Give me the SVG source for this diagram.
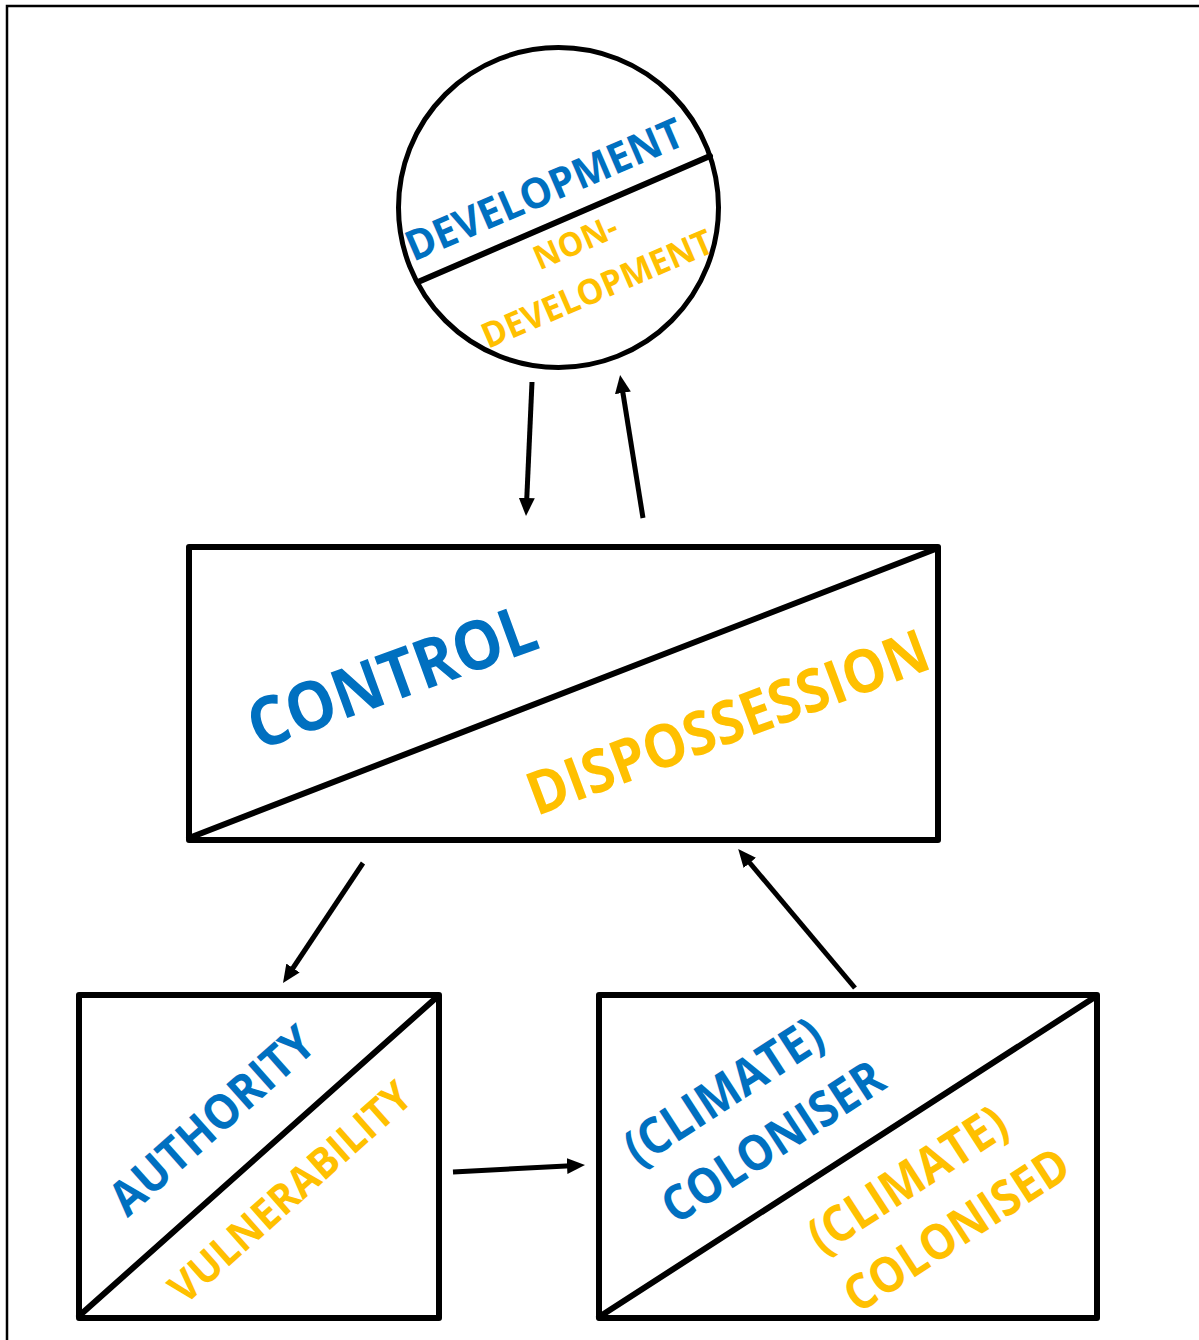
<svg xmlns="http://www.w3.org/2000/svg" width="1199" height="1340" viewBox="0 0 1199 1340">
<style>
.shape{fill:none;stroke:#000;stroke-width:6;stroke-linejoin:round;stroke-linecap:round}
.conn{fill:none;stroke:#000;stroke-width:5}
.t{font-family:"Open Sans","Noto Sans",sans-serif;font-weight:bold;text-anchor:middle}
.blue{fill:#0070C0}
.orange{fill:#FFC000}
</style>
<defs>
<marker id="arr" markerUnits="userSpaceOnUse" markerWidth="18" markerHeight="16" refX="9" refY="8" orient="auto">
<path d="M0,0 L18,8 L0,16 z" fill="#000"/>
</marker>
</defs>
<rect width="1199" height="1340" fill="#fff"/>
<rect x="7" y="6" width="1300" height="1400" fill="none" stroke="#000" stroke-width="2.5"/>

<g id="node-development">
<circle cx="558.5" cy="207.5" r="160" fill="none" stroke="#000" stroke-width="5"/>
<line x1="418" y1="282" x2="710" y2="156" class="shape" stroke-width="5"/>
<text class="t blue" font-size="42" textLength="298" lengthAdjust="spacingAndGlyphs" transform="translate(550,203) rotate(-23.3)">DEVELOPMENT</text>
<text class="t orange" font-size="33" textLength="88" lengthAdjust="spacingAndGlyphs" transform="translate(580,253) rotate(-23.3)">NON-</text>
<text class="t orange" font-size="35" textLength="248" lengthAdjust="spacingAndGlyphs" transform="translate(602,300) rotate(-23.3)">DEVELOPMENT</text>
</g>

<g id="node-control">
<rect x="189" y="547" width="749" height="293" class="shape"/>
<line x1="189" y1="838" x2="938" y2="548" class="shape"/>
<text class="t blue" font-size="68" textLength="302" lengthAdjust="spacingAndGlyphs" transform="translate(400,699) rotate(-20)">CONTROL</text>
<text class="t orange" font-size="60" textLength="424" lengthAdjust="spacingAndGlyphs" transform="translate(735,742) rotate(-20.5)">DISPOSSESSION</text>
</g>

<g id="node-authority">
<rect x="79" y="995" width="360" height="323" class="shape"/>
<line x1="79" y1="1316" x2="437" y2="997" class="shape"/>
<text class="t blue" font-size="48" textLength="256" lengthAdjust="spacingAndGlyphs" transform="translate(223,1133) rotate(-41.7)">AUTHORITY</text>
<text class="t orange" font-size="42" textLength="308" lengthAdjust="spacingAndGlyphs" transform="translate(300,1203) rotate(-41.7)">VULNERABILITY</text>
</g>

<g id="node-coloniser">
<rect x="599" y="995" width="498" height="323" class="shape"/>
<line x1="599" y1="1317" x2="1095" y2="997" class="shape"/>
<text class="t blue" font-size="50" textLength="226" lengthAdjust="spacingAndGlyphs" transform="translate(733,1106) rotate(-33)">(CLIMATE)</text>
<text class="t blue" font-size="49" textLength="254" lengthAdjust="spacingAndGlyphs" transform="translate(782,1156) rotate(-33)">COLONISER</text>
<text class="t orange" font-size="50" textLength="226" lengthAdjust="spacingAndGlyphs" transform="translate(917,1194) rotate(-33)">(CLIMATE)</text>
<text class="t orange" font-size="49" textLength="258" lengthAdjust="spacingAndGlyphs" transform="translate(966,1244) rotate(-33)">COLONISED</text>
</g>

<g id="connectors">
<line x1="532" y1="382" x2="526.4" y2="507" class="conn" marker-end="url(#arr)"/>
<line x1="643" y1="518" x2="621.5" y2="384" class="conn" marker-end="url(#arr)"/>
<line x1="363" y1="863" x2="288" y2="975.5" class="conn" marker-end="url(#arr)"/>
<line x1="453" y1="1172" x2="576" y2="1165.5" class="conn" marker-end="url(#arr)"/>
<line x1="855" y1="988" x2="744" y2="856" class="conn" marker-end="url(#arr)"/>
</g>
</svg>
